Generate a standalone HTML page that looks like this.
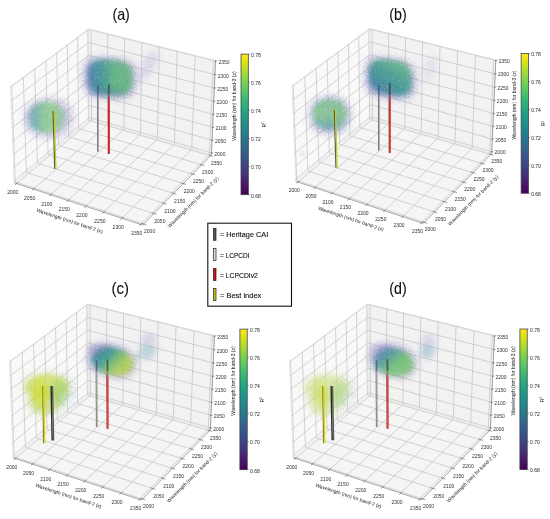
<!DOCTYPE html>
<html><head><meta charset="utf-8"><style>html,body{margin:0;padding:0;background:#fff;}svg{display:block;}</style></head>
<body><svg width="550" height="519" viewBox="0 0 550 519"><defs><linearGradient id="vir" x1="0" y1="0" x2="0" y2="1"><stop offset="0.00" stop-color="#fde724"/><stop offset="0.05" stop-color="#dfe318"/><stop offset="0.10" stop-color="#bdde26"/><stop offset="0.15" stop-color="#9ad83c"/><stop offset="0.20" stop-color="#79d151"/><stop offset="0.25" stop-color="#5ec961"/><stop offset="0.30" stop-color="#44be70"/><stop offset="0.35" stop-color="#2fb37b"/><stop offset="0.40" stop-color="#22a784"/><stop offset="0.45" stop-color="#1e9b89"/><stop offset="0.50" stop-color="#20908c"/><stop offset="0.55" stop-color="#24848d"/><stop offset="0.60" stop-color="#29788e"/><stop offset="0.65" stop-color="#2e6b8e"/><stop offset="0.70" stop-color="#345e8d"/><stop offset="0.75" stop-color="#3a528b"/><stop offset="0.80" stop-color="#404387"/><stop offset="0.85" stop-color="#45347f"/><stop offset="0.90" stop-color="#482374"/><stop offset="0.95" stop-color="#471265"/><stop offset="1.00" stop-color="#440154"/></linearGradient><filter id="b1" x="-50%" y="-50%" width="200%" height="200%"><feGaussianBlur stdDeviation="1"/></filter><filter id="b1.5" x="-50%" y="-50%" width="200%" height="200%"><feGaussianBlur stdDeviation="1.5"/></filter><filter id="b2" x="-50%" y="-50%" width="200%" height="200%"><feGaussianBlur stdDeviation="2"/></filter><filter id="b2.5" x="-50%" y="-50%" width="200%" height="200%"><feGaussianBlur stdDeviation="2.5"/></filter><filter id="b3" x="-50%" y="-50%" width="200%" height="200%"><feGaussianBlur stdDeviation="3"/></filter><filter id="b3.5" x="-50%" y="-50%" width="200%" height="200%"><feGaussianBlur stdDeviation="3.5"/></filter><filter id="b4" x="-50%" y="-50%" width="200%" height="200%"><feGaussianBlur stdDeviation="4"/></filter><filter id="b5" x="-50%" y="-50%" width="200%" height="200%"><feGaussianBlur stdDeviation="5"/></filter><filter id="gc2" x="-50%" y="-50%" width="200%" height="200%"><feTurbulence type="fractalNoise" baseFrequency="1.3" numOctaves="2" seed="7" result="t"/><feColorMatrix in="t" type="matrix" values="0 0 0 0 0 0 0 0 0 0 0 0 0 0 0 1.0 0 0 0 0.45" result="m"/><feGaussianBlur in="SourceGraphic" stdDeviation="2" result="b"/><feComposite in="b" in2="m" operator="in"/></filter><filter id="gc2.5" x="-50%" y="-50%" width="200%" height="200%"><feTurbulence type="fractalNoise" baseFrequency="1.3" numOctaves="2" seed="7" result="t"/><feColorMatrix in="t" type="matrix" values="0 0 0 0 0 0 0 0 0 0 0 0 0 0 0 1.0 0 0 0 0.45" result="m"/><feGaussianBlur in="SourceGraphic" stdDeviation="2.5" result="b"/><feComposite in="b" in2="m" operator="in"/></filter><filter id="gc3" x="-50%" y="-50%" width="200%" height="200%"><feTurbulence type="fractalNoise" baseFrequency="1.3" numOctaves="2" seed="7" result="t"/><feColorMatrix in="t" type="matrix" values="0 0 0 0 0 0 0 0 0 0 0 0 0 0 0 1.0 0 0 0 0.45" result="m"/><feGaussianBlur in="SourceGraphic" stdDeviation="3" result="b"/><feComposite in="b" in2="m" operator="in"/></filter><filter id="gr2.5" x="-50%" y="-50%" width="200%" height="200%"><feTurbulence type="fractalNoise" baseFrequency="1.3" numOctaves="2" seed="3" result="t"/><feColorMatrix in="t" type="matrix" values="0 0 0 0 0 0 0 0 0 0 0 0 0 0 0 2.2 0 0 0 -0.7" result="m"/><feGaussianBlur in="SourceGraphic" stdDeviation="2.5" result="b"/><feComposite in="b" in2="m" operator="in"/></filter><filter id="gr3" x="-50%" y="-50%" width="200%" height="200%"><feTurbulence type="fractalNoise" baseFrequency="1.3" numOctaves="2" seed="3" result="t"/><feColorMatrix in="t" type="matrix" values="0 0 0 0 0 0 0 0 0 0 0 0 0 0 0 2.2 0 0 0 -0.7" result="m"/><feGaussianBlur in="SourceGraphic" stdDeviation="3" result="b"/><feComposite in="b" in2="m" operator="in"/></filter><filter id="gr3.5" x="-50%" y="-50%" width="200%" height="200%"><feTurbulence type="fractalNoise" baseFrequency="1.3" numOctaves="2" seed="3" result="t"/><feColorMatrix in="t" type="matrix" values="0 0 0 0 0 0 0 0 0 0 0 0 0 0 0 2.2 0 0 0 -0.7" result="m"/><feGaussianBlur in="SourceGraphic" stdDeviation="3.5" result="b"/><feComposite in="b" in2="m" operator="in"/></filter><filter id="gr4" x="-50%" y="-50%" width="200%" height="200%"><feTurbulence type="fractalNoise" baseFrequency="1.3" numOctaves="2" seed="3" result="t"/><feColorMatrix in="t" type="matrix" values="0 0 0 0 0 0 0 0 0 0 0 0 0 0 0 2.2 0 0 0 -0.7" result="m"/><feGaussianBlur in="SourceGraphic" stdDeviation="4" result="b"/><feComposite in="b" in2="m" operator="in"/></filter><filter id="soft" x="0" y="0" width="100%" height="100%"><feGaussianBlur stdDeviation="0.3"/></filter><linearGradient id="g0" gradientUnits="userSpaceOnUse" x1="29.00" y1="0.00" x2="66.00" y2="0.00"><stop offset="0" stop-color="#5c9cb4" stop-opacity="1"/><stop offset="0.28" stop-color="#6cba94" stop-opacity="1"/><stop offset="0.55" stop-color="#8ad07a" stop-opacity="1"/><stop offset="0.8" stop-color="#88c888" stop-opacity="1"/><stop offset="1" stop-color="#8cb4b0" stop-opacity="1"/></linearGradient><linearGradient id="g1" gradientUnits="userSpaceOnUse" x1="87.00" y1="0.00" x2="132.00" y2="0.00"><stop offset="0" stop-color="#4a70aa" stop-opacity="1"/><stop offset="0.14" stop-color="#31809a" stop-opacity="1"/><stop offset="0.35" stop-color="#2f9488" stop-opacity="1"/><stop offset="0.62" stop-color="#52b672" stop-opacity="1"/><stop offset="1" stop-color="#5cb47a" stop-opacity="1"/></linearGradient><linearGradient id="g2" gradientUnits="userSpaceOnUse" x1="0.00" y1="100.00" x2="0.00" y2="132.00"><stop offset="0" stop-color="#6cbc84" stop-opacity="1"/><stop offset="0.5" stop-color="#78c47c" stop-opacity="1"/><stop offset="0.85" stop-color="#5aa8a0" stop-opacity="1"/><stop offset="1" stop-color="#5a90b0" stop-opacity="1"/></linearGradient><linearGradient id="g3" gradientUnits="userSpaceOnUse" x1="120.00" y1="62.00" x2="96.00" y2="97.00"><stop offset="0" stop-color="#5ab878" stop-opacity="1"/><stop offset="0.35" stop-color="#3a9e86" stop-opacity="1"/><stop offset="0.65" stop-color="#2c8a8c" stop-opacity="1"/><stop offset="0.88" stop-color="#3a74a0" stop-opacity="1"/><stop offset="1" stop-color="#5a66a8" stop-opacity="1"/></linearGradient><linearGradient id="g4" gradientUnits="userSpaceOnUse" x1="98.00" y1="70.00" x2="128.00" y2="100.00"><stop offset="0" stop-color="#6c74b4" stop-opacity="1"/><stop offset="0.2" stop-color="#328592" stop-opacity="1"/><stop offset="0.38" stop-color="#2f9a88" stop-opacity="1"/><stop offset="0.56" stop-color="#6cc05a" stop-opacity="1"/><stop offset="0.76" stop-color="#a8d048" stop-opacity="1"/><stop offset="1" stop-color="#bcd444" stop-opacity="1"/></linearGradient><linearGradient id="g5" gradientUnits="userSpaceOnUse" x1="100.00" y1="70.00" x2="128.00" y2="100.00"><stop offset="0" stop-color="#8088c0" stop-opacity="1"/><stop offset="0.2" stop-color="#4a86a4" stop-opacity="1"/><stop offset="0.38" stop-color="#3a9a90" stop-opacity="1"/><stop offset="0.58" stop-color="#5cc064" stop-opacity="1"/><stop offset="1" stop-color="#74c660" stop-opacity="1"/></linearGradient></defs>
<rect width="550" height="519" fill="#fff"/>
<g filter="url(#soft)"><g transform="translate(0.00,0.00) scale(1)">
<polygon points="14.09,182.77 89.25,119.60 88.65,28.88 10.39,86.65" fill="#f9f9f9"/>
<polygon points="89.25,119.60 211.40,154.97 215.57,60.42 88.65,28.88" fill="#f2f2f2"/>
<polygon points="14.09,182.77 142.63,225.12 211.40,154.97 89.25,119.60" fill="#f5f5f5"/>
<g stroke="#bababa" stroke-width="0.62"><line x1="15.28" y1="181.77" x2="11.63" y2="85.73" /><line x1="14.01" y1="180.66" x2="89.24" y2="117.59" /><line x1="91.55" y1="120.26" x2="91.03" y2="29.47" /><line x1="89.24" y1="117.59" x2="211.49" y2="152.88" /><line x1="16.50" y1="183.56" x2="91.55" y2="120.26" /><line x1="15.28" y1="181.77" x2="143.72" y2="224.01" /><line x1="26.45" y1="172.38" x2="23.30" y2="77.12" /><line x1="13.51" y1="167.75" x2="89.16" y2="105.39" /><line x1="107.64" y1="124.92" x2="107.72" y2="33.62" /><line x1="89.16" y1="105.39" x2="212.05" y2="140.18" /><line x1="33.37" y1="189.12" x2="107.64" y2="124.92" /><line x1="26.45" y1="172.38" x2="153.99" y2="213.54" /><line x1="37.38" y1="163.20" x2="34.69" y2="68.71" /><line x1="13.01" y1="154.71" x2="89.08" y2="93.05" /><line x1="123.97" y1="129.65" x2="124.67" y2="37.83" /><line x1="89.08" y1="93.05" x2="212.62" y2="127.34" /><line x1="50.50" y1="194.77" x2="123.97" y2="129.65" /><line x1="37.38" y1="163.20" x2="164.01" y2="203.32" /><line x1="48.05" y1="154.23" x2="45.81" y2="60.50" /><line x1="12.50" y1="141.52" x2="88.99" y2="80.60" /><line x1="140.54" y1="134.45" x2="141.88" y2="42.11" /><line x1="88.99" y1="80.60" x2="213.19" y2="114.37" /><line x1="67.92" y1="200.51" x2="140.54" y2="134.45" /><line x1="48.05" y1="154.23" x2="173.78" y2="193.34" /><line x1="58.48" y1="145.46" x2="56.67" y2="52.48" /><line x1="11.99" y1="128.19" x2="88.91" y2="68.02" /><line x1="157.36" y1="139.32" x2="159.35" y2="46.45" /><line x1="88.91" y1="68.02" x2="213.77" y2="101.25" /><line x1="85.61" y1="206.34" x2="157.36" y2="139.32" /><line x1="58.48" y1="145.46" x2="183.33" y2="183.61" /><line x1="68.69" y1="136.88" x2="67.29" y2="44.65" /><line x1="11.47" y1="114.71" x2="88.82" y2="55.30" /><line x1="174.43" y1="144.26" x2="177.10" y2="50.86" /><line x1="88.82" y1="55.30" x2="214.35" y2="88.00" /><line x1="103.60" y1="212.26" x2="174.43" y2="144.26" /><line x1="68.69" y1="136.88" x2="192.65" y2="174.09" /><line x1="78.67" y1="128.49" x2="77.66" y2="36.99" /><line x1="10.95" y1="101.08" x2="88.74" y2="42.46" /><line x1="191.76" y1="149.28" x2="195.12" y2="55.34" /><line x1="88.74" y1="42.46" x2="214.94" y2="74.60" /><line x1="121.88" y1="218.29" x2="191.76" y2="149.28" /><line x1="78.67" y1="128.49" x2="201.76" y2="164.80" /><line x1="88.43" y1="120.28" x2="87.80" y2="29.51" /><line x1="10.42" y1="87.29" x2="88.65" y2="29.49" /><line x1="209.35" y1="154.37" x2="213.43" y2="59.89" /><line x1="88.65" y1="29.49" x2="215.54" y2="61.05" /><line x1="140.47" y1="224.41" x2="209.35" y2="154.37" /><line x1="88.43" y1="120.28" x2="210.66" y2="155.73" /></g>
<g stroke="#dcdcdc" stroke-width="0.6"><line x1="14.09" y1="182.77" x2="10.39" y2="86.65" /><line x1="10.39" y1="86.65" x2="88.65" y2="28.88" /><line x1="88.65" y1="28.88" x2="89.25" y2="119.60" /><line x1="89.25" y1="119.60" x2="14.09" y2="182.77" /><line x1="88.65" y1="28.88" x2="215.57" y2="60.42" /><line x1="215.57" y1="60.42" x2="211.40" y2="154.97" /><line x1="89.25" y1="119.60" x2="211.40" y2="154.97" /></g>
<polygon points="97.00,85.00 97.90,85.00 97.90,151.80 97.00,151.80" fill="#6e6e6e" opacity="1.0"/><polygon points="97.90,85.00 98.80,85.00 98.80,151.80 97.90,151.80" fill="#9a9a9a" opacity="1.0"/>
<polygon points="107.80,84.20 108.80,84.20 108.80,154.10 107.80,154.10" fill="#a00808" opacity="1.0"/><polygon points="108.80,84.20 109.80,84.20 109.80,154.10 108.80,154.10" fill="#d81010" opacity="1.0"/>
<ellipse cx="148.00" cy="66.00" rx="8.00" ry="18.00" fill="#b8b0d8" opacity="0.5" filter="url(#gr3)" transform="rotate(32 148.00 66.00)"/><ellipse cx="148.00" cy="66.00" rx="6.00" ry="16.00" fill="#c4bedc" opacity="0.25" filter="url(#b2.5)" transform="rotate(32 148.00 66.00)"/><polygon points="75.00,118.00 74.80,121.30 74.19,124.15 73.19,126.77 71.81,129.18 70.07,131.37 67.97,133.32 65.56,135.01 62.85,136.43 59.86,137.54 56.61,138.35 53.08,138.84 49.00,139.00 44.92,138.84 41.39,138.35 38.14,137.54 35.15,136.43 32.44,135.01 30.03,133.32 27.93,131.37 26.19,129.18 24.81,126.77 23.81,124.15 23.20,121.30 23.00,118.00 23.20,114.70 23.81,111.85 24.81,109.23 26.19,106.82 27.93,104.63 30.03,102.68 32.44,100.99 35.15,99.57 38.14,98.46 41.39,97.65 44.92,97.16 49.00,97.00 53.08,97.16 56.61,97.65 59.86,98.46 62.85,99.57 65.56,100.99 67.97,102.68 70.07,104.63 71.81,106.82 73.19,109.23 74.19,111.85 74.80,114.70" fill="#9a90c8" opacity="0.55" filter="url(#gr3)"/><polygon points="72.00,118.00 71.82,120.83 71.29,123.27 70.40,125.52 69.18,127.59 67.64,129.46 65.78,131.14 63.65,132.58 61.25,133.79 58.60,134.75 55.73,135.44 52.61,135.86 49.00,136.00 45.39,135.86 42.27,135.44 39.40,134.75 36.75,133.79 34.35,132.58 32.22,131.14 30.36,129.46 28.82,127.59 27.60,125.52 26.71,123.27 26.18,120.83 26.00,118.00 26.18,115.17 26.71,112.73 27.60,110.48 28.82,108.41 30.36,106.54 32.22,104.86 34.35,103.42 36.75,102.21 39.40,101.25 42.27,100.56 45.39,100.14 49.00,100.00 52.61,100.14 55.73,100.56 58.60,101.25 61.25,102.21 63.65,103.42 65.78,104.86 67.64,106.54 69.18,108.41 70.40,110.48 71.29,112.73 71.82,115.17" fill="#b0a6d6" opacity="0.3" filter="url(#b3)"/><polygon points="65.50,117.50 65.36,119.93 64.93,122.04 64.22,123.97 63.23,125.75 61.99,127.37 60.50,128.81 58.78,130.06 56.85,131.10 54.73,131.92 52.41,132.52 49.91,132.88 47.00,133.00 44.09,132.88 41.59,132.52 39.27,131.92 37.15,131.10 35.22,130.06 33.50,128.81 32.01,127.37 30.77,125.75 29.78,123.97 29.07,122.04 28.64,119.93 28.50,117.50 28.64,115.07 29.07,112.96 29.78,111.03 30.77,109.25 32.01,107.63 33.50,106.19 35.22,104.94 37.15,103.90 39.27,103.08 41.59,102.48 44.09,102.12 47.00,102.00 49.91,102.12 52.41,102.48 54.73,103.08 56.85,103.90 58.78,104.94 60.50,106.19 61.99,107.63 63.23,109.25 64.22,111.03 64.93,112.96 65.36,115.07" fill="url(#g0)" opacity="0.8" filter="url(#gc2.5)"/><polygon points="138.00,79.49 137.84,85.15 137.35,88.39 136.53,91.01 135.39,93.22 133.92,95.08 132.12,96.65 129.97,97.93 127.45,98.93 124.52,99.66 121.07,100.10 116.83,100.26 109.50,100.00 102.17,99.49 97.93,98.89 94.48,98.08 91.55,97.05 89.03,95.78 86.88,94.28 85.08,92.52 83.61,90.50 82.47,88.18 81.65,85.48 81.16,82.18 81.00,76.51 81.16,70.85 81.65,67.61 82.47,64.99 83.61,62.78 85.08,60.92 86.88,59.35 89.03,58.07 91.55,57.07 94.48,56.34 97.93,55.90 102.17,55.74 109.50,56.00 116.83,56.51 121.07,57.11 124.52,57.92 127.45,58.95 129.97,60.22 132.12,61.72 133.92,63.48 135.39,65.50 136.53,67.82 137.35,70.52 137.84,73.82" fill="#8a80c0" opacity="0.6" filter="url(#gr3)"/><polygon points="135.50,79.36 135.35,84.37 134.91,87.25 134.16,89.57 133.12,91.52 131.78,93.17 130.14,94.56 128.18,95.69 125.88,96.58 123.20,97.22 120.06,97.61 116.19,97.74 109.50,97.50 102.81,97.04 98.94,96.50 95.80,95.78 93.12,94.86 90.82,93.73 88.86,92.40 87.22,90.84 85.88,89.05 84.84,86.99 84.09,84.59 83.65,81.66 83.50,76.64 83.65,71.63 84.09,68.75 84.84,66.43 85.88,64.48 87.22,62.83 88.86,61.44 90.82,60.31 93.12,59.42 95.80,58.78 98.94,58.39 102.81,58.26 109.50,58.50 116.19,58.96 120.06,59.50 123.20,60.22 125.88,61.14 128.18,62.27 130.14,63.60 131.78,65.16 133.12,66.95 134.16,69.01 134.91,71.41 135.35,74.34" fill="#958cc6" opacity="0.35" filter="url(#b3)"/><polygon points="132.50,78.68 132.37,83.18 131.99,85.76 131.34,87.84 130.44,89.60 129.28,91.08 127.86,92.33 126.16,93.34 124.17,94.14 121.86,94.72 119.14,95.08 115.79,95.20 110.00,95.00 104.21,94.60 100.86,94.12 98.14,93.48 95.83,92.66 93.84,91.65 92.14,90.45 90.72,89.06 89.56,87.45 88.66,85.61 88.01,83.46 87.63,80.83 87.50,76.32 87.63,71.82 88.01,69.24 88.66,67.16 89.56,65.40 90.72,63.92 92.14,62.67 93.84,61.66 95.83,60.86 98.14,60.28 100.86,59.92 104.21,59.80 110.00,60.00 115.79,60.40 119.14,60.88 121.86,61.52 124.17,62.34 126.16,63.35 127.86,64.55 129.28,65.94 130.44,67.55 131.34,69.39 131.99,71.54 132.37,74.17" fill="url(#g1)" opacity="0.85" filter="url(#gc2.5)"/><ellipse cx="108.00" cy="92.00" rx="18.00" ry="4.00" fill="#4a70a8" opacity="0.3" filter="url(#b2.5)" transform="rotate(3 108.00 92.00)"/><line x1="97.90" y1="85.20" x2="97.90" y2="95.00" stroke="#3a4a58" stroke-width="1.3" opacity="0.55"/><line x1="108.80" y1="84.40" x2="108.80" y2="94.00" stroke="#2a3a30" stroke-width="1.5" opacity="0.6"/>
<polygon points="52.50,111.00 53.70,111.00 55.30,169.00 54.10,169.00" fill="#5a5e3a" opacity="1.0"/><polygon points="53.70,111.00 54.90,111.00 56.50,169.00 55.30,169.00" fill="#c6cc22" opacity="1.0"/>
<g stroke="#555" stroke-width="0.5"><line x1="14.09" y1="182.77" x2="142.63" y2="225.12" /><line x1="142.63" y1="225.12" x2="211.40" y2="154.97" /><line x1="211.40" y1="154.97" x2="215.57" y2="60.42" /></g>
<g stroke="#444" stroke-width="0.5"><line x1="17.72" y1="182.53" x2="15.03" y2="184.80" /><line x1="141.68" y1="223.34" x2="146.45" y2="224.91" /><line x1="210.74" y1="153.66" x2="211.49" y2="152.88" /><line x1="34.57" y1="188.08" x2="31.91" y2="190.38" /><line x1="151.96" y1="212.88" x2="156.69" y2="214.41" /><line x1="211.29" y1="140.94" x2="212.05" y2="140.18" /><line x1="51.70" y1="193.71" x2="49.06" y2="196.04" /><line x1="162.00" y1="202.68" x2="166.69" y2="204.17" /><line x1="211.85" y1="128.10" x2="212.62" y2="127.34" /><line x1="69.10" y1="199.43" x2="66.49" y2="201.80" /><line x1="171.79" y1="192.72" x2="176.45" y2="194.17" /><line x1="212.42" y1="115.11" x2="213.19" y2="114.37" /><line x1="86.78" y1="205.24" x2="84.21" y2="207.65" /><line x1="181.35" y1="183.00" x2="185.97" y2="184.41" /><line x1="213.00" y1="101.99" x2="213.77" y2="101.25" /><line x1="104.75" y1="211.15" x2="102.21" y2="213.60" /><line x1="190.69" y1="173.51" x2="195.28" y2="174.88" /><line x1="213.58" y1="88.72" x2="214.35" y2="88.00" /><line x1="123.02" y1="217.16" x2="120.51" y2="219.64" /><line x1="199.81" y1="164.23" x2="204.36" y2="165.57" /><line x1="214.16" y1="75.31" x2="214.94" y2="74.60" /><line x1="141.59" y1="223.27" x2="139.11" y2="225.79" /><line x1="208.72" y1="155.17" x2="213.24" y2="156.48" /><line x1="214.76" y1="61.76" x2="215.54" y2="61.05" /></g>
<g stroke="#444" stroke-width="0.5"><line x1="210.89" y1="152.88" x2="213.09" y2="152.88" /><line x1="211.45" y1="140.18" x2="213.65" y2="140.18" /><line x1="212.02" y1="127.34" x2="214.22" y2="127.34" /><line x1="212.59" y1="114.37" x2="214.79" y2="114.37" /><line x1="213.17" y1="101.25" x2="215.37" y2="101.25" /><line x1="213.75" y1="88.00" x2="215.95" y2="88.00" /><line x1="214.34" y1="74.60" x2="216.54" y2="74.60" /><line x1="214.94" y1="61.05" x2="217.14" y2="61.05" /></g>
<g font-family="Liberation Sans, sans-serif" font-size="5" fill="#333" text-anchor="middle" dominant-baseline="central"><text x="12.80" y="192.46">2000</text><text x="149.62" y="231.31">2000</text><text x="219.89" y="153.88">2000</text><text x="29.67" y="198.02">2050</text><text x="159.89" y="220.84">2050</text><text x="220.45" y="141.18">2050</text><text x="46.80" y="203.67">2100</text><text x="169.91" y="210.62">2100</text><text x="221.02" y="128.34">2100</text><text x="64.22" y="209.41">2150</text><text x="179.68" y="200.64">2150</text><text x="221.59" y="115.37">2150</text><text x="81.91" y="215.24">2200</text><text x="189.23" y="190.91">2200</text><text x="222.17" y="102.25">2200</text><text x="99.90" y="221.16">2250</text><text x="198.55" y="181.39">2250</text><text x="222.75" y="89.00">2250</text><text x="118.18" y="227.19">2300</text><text x="207.66" y="172.10">2300</text><text x="223.34" y="75.60">2300</text><text x="136.77" y="233.31">2350</text><text x="216.56" y="163.03">2350</text><text x="223.94" y="62.05">2350</text></g>
<g font-family="Liberation Sans, sans-serif" font-size="5" fill="#222" text-anchor="middle" dominant-baseline="central"><text transform="translate(69.80,220.60) rotate(18.4)">Wavelength (nm) for band-2 (x)</text><text transform="translate(192.90,202.00) rotate(-45)">Wavelength (nm) for band-2 (y)</text><text transform="translate(234.00,106.00) rotate(-90)">Wavelength (nm) for band-3 (z)</text></g>
<rect x="241.00" y="54.10" width="7.3" height="140.6" fill="url(#vir)" stroke="#3a3a3a" stroke-width="0.75"/>
<g stroke="#333" stroke-width="0.5"><line x1="248.30" y1="54.10" x2="249.80" y2="54.10" /><line x1="248.30" y1="82.22" x2="249.80" y2="82.22" /><line x1="248.30" y1="110.34" x2="249.80" y2="110.34" /><line x1="248.30" y1="138.46" x2="249.80" y2="138.46" /><line x1="248.30" y1="166.58" x2="249.80" y2="166.58" /><line x1="248.30" y1="194.70" x2="249.80" y2="194.70" /></g>
<g font-family="Liberation Sans, sans-serif" font-size="5" fill="#222" dominant-baseline="central"><text x="251.10" y="55.00">0.78</text><text x="251.10" y="83.12">0.76</text><text x="251.10" y="111.24">0.74</text><text x="251.10" y="139.36">0.72</text><text x="251.10" y="167.48">0.70</text><text x="251.10" y="195.60">0.68</text></g>
<text font-family="Liberation Sans, sans-serif" font-size="4.5" fill="#222" text-anchor="middle" dominant-baseline="central" transform="translate(264.00,124.70) rotate(-90)">R<tspan font-size="3" dy="-1.5">2</tspan></text>
</g>
<text font-family="Liberation Sans, sans-serif" font-size="16.5" fill="#111" stroke="#111" stroke-width="0.1" x="112.40" y="20.20" textLength="17.4" lengthAdjust="spacingAndGlyphs">(a)</text>
<g transform="translate(281.57,-0.30) scale(0.994)">
<polygon points="14.09,182.77 89.25,119.60 88.65,28.88 10.39,86.65" fill="#f9f9f9"/>
<polygon points="89.25,119.60 211.40,154.97 215.57,60.42 88.65,28.88" fill="#f2f2f2"/>
<polygon points="14.09,182.77 142.63,225.12 211.40,154.97 89.25,119.60" fill="#f5f5f5"/>
<g stroke="#bababa" stroke-width="0.62"><line x1="15.28" y1="181.77" x2="11.63" y2="85.73" /><line x1="14.01" y1="180.66" x2="89.24" y2="117.59" /><line x1="91.55" y1="120.26" x2="91.03" y2="29.47" /><line x1="89.24" y1="117.59" x2="211.49" y2="152.88" /><line x1="16.50" y1="183.56" x2="91.55" y2="120.26" /><line x1="15.28" y1="181.77" x2="143.72" y2="224.01" /><line x1="26.45" y1="172.38" x2="23.30" y2="77.12" /><line x1="13.51" y1="167.75" x2="89.16" y2="105.39" /><line x1="107.64" y1="124.92" x2="107.72" y2="33.62" /><line x1="89.16" y1="105.39" x2="212.05" y2="140.18" /><line x1="33.37" y1="189.12" x2="107.64" y2="124.92" /><line x1="26.45" y1="172.38" x2="153.99" y2="213.54" /><line x1="37.38" y1="163.20" x2="34.69" y2="68.71" /><line x1="13.01" y1="154.71" x2="89.08" y2="93.05" /><line x1="123.97" y1="129.65" x2="124.67" y2="37.83" /><line x1="89.08" y1="93.05" x2="212.62" y2="127.34" /><line x1="50.50" y1="194.77" x2="123.97" y2="129.65" /><line x1="37.38" y1="163.20" x2="164.01" y2="203.32" /><line x1="48.05" y1="154.23" x2="45.81" y2="60.50" /><line x1="12.50" y1="141.52" x2="88.99" y2="80.60" /><line x1="140.54" y1="134.45" x2="141.88" y2="42.11" /><line x1="88.99" y1="80.60" x2="213.19" y2="114.37" /><line x1="67.92" y1="200.51" x2="140.54" y2="134.45" /><line x1="48.05" y1="154.23" x2="173.78" y2="193.34" /><line x1="58.48" y1="145.46" x2="56.67" y2="52.48" /><line x1="11.99" y1="128.19" x2="88.91" y2="68.02" /><line x1="157.36" y1="139.32" x2="159.35" y2="46.45" /><line x1="88.91" y1="68.02" x2="213.77" y2="101.25" /><line x1="85.61" y1="206.34" x2="157.36" y2="139.32" /><line x1="58.48" y1="145.46" x2="183.33" y2="183.61" /><line x1="68.69" y1="136.88" x2="67.29" y2="44.65" /><line x1="11.47" y1="114.71" x2="88.82" y2="55.30" /><line x1="174.43" y1="144.26" x2="177.10" y2="50.86" /><line x1="88.82" y1="55.30" x2="214.35" y2="88.00" /><line x1="103.60" y1="212.26" x2="174.43" y2="144.26" /><line x1="68.69" y1="136.88" x2="192.65" y2="174.09" /><line x1="78.67" y1="128.49" x2="77.66" y2="36.99" /><line x1="10.95" y1="101.08" x2="88.74" y2="42.46" /><line x1="191.76" y1="149.28" x2="195.12" y2="55.34" /><line x1="88.74" y1="42.46" x2="214.94" y2="74.60" /><line x1="121.88" y1="218.29" x2="191.76" y2="149.28" /><line x1="78.67" y1="128.49" x2="201.76" y2="164.80" /><line x1="88.43" y1="120.28" x2="87.80" y2="29.51" /><line x1="10.42" y1="87.29" x2="88.65" y2="29.49" /><line x1="209.35" y1="154.37" x2="213.43" y2="59.89" /><line x1="88.65" y1="29.49" x2="215.54" y2="61.05" /><line x1="140.47" y1="224.41" x2="209.35" y2="154.37" /><line x1="88.43" y1="120.28" x2="210.66" y2="155.73" /></g>
<g stroke="#dcdcdc" stroke-width="0.6"><line x1="14.09" y1="182.77" x2="10.39" y2="86.65" /><line x1="10.39" y1="86.65" x2="88.65" y2="28.88" /><line x1="88.65" y1="28.88" x2="89.25" y2="119.60" /><line x1="89.25" y1="119.60" x2="14.09" y2="182.77" /><line x1="88.65" y1="28.88" x2="215.57" y2="60.42" /><line x1="215.57" y1="60.42" x2="211.40" y2="154.97" /><line x1="89.25" y1="119.60" x2="211.40" y2="154.97" /></g>
<polygon points="97.00,85.00 97.90,85.00 97.90,151.80 97.00,151.80" fill="#6e6e6e" opacity="1.0"/><polygon points="97.90,85.00 98.80,85.00 98.80,151.80 97.90,151.80" fill="#9a9a9a" opacity="1.0"/>
<polygon points="107.80,84.20 108.80,84.20 108.80,154.10 107.80,154.10" fill="#a00808" opacity="1.0"/><polygon points="108.80,84.20 109.80,84.20 109.80,154.10 108.80,154.10" fill="#d81010" opacity="1.0"/>
<ellipse cx="149.00" cy="70.00" rx="8.00" ry="15.00" fill="#c0b8dc" opacity="0.35" filter="url(#gr3)" transform="rotate(20 149.00 70.00)"/><ellipse cx="149.00" cy="70.00" rx="5.50" ry="13.00" fill="#cec8e4" opacity="0.18" filter="url(#b2.5)" transform="rotate(20 149.00 70.00)"/><ellipse cx="21.00" cy="155.00" rx="3.00" ry="2.50" fill="#c0b8dc" opacity="0.35" filter="url(#b1.5)" transform="rotate(0 21.00 155.00)"/><polygon points="71.70,116.50 71.52,119.80 70.99,122.65 70.10,125.27 68.88,127.68 67.34,129.87 65.48,131.82 63.35,133.51 60.95,134.93 58.30,136.04 55.43,136.85 52.31,137.34 48.70,137.50 45.09,137.34 41.97,136.85 39.10,136.04 36.45,134.93 34.05,133.51 31.92,131.82 30.06,129.87 28.52,127.68 27.30,125.27 26.41,122.65 25.88,119.80 25.70,116.50 25.88,113.20 26.41,110.35 27.30,107.73 28.52,105.32 30.06,103.13 31.92,101.18 34.05,99.49 36.45,98.07 39.10,96.96 41.97,96.15 45.09,95.66 48.70,95.50 52.31,95.66 55.43,96.15 58.30,96.96 60.95,98.07 63.35,99.49 65.48,101.18 67.34,103.13 68.88,105.32 70.10,107.73 70.99,110.35 71.52,113.20" fill="#8a88c4" opacity="0.55" filter="url(#gr3)"/><polygon points="68.70,116.50 68.54,119.33 68.08,121.77 67.31,124.02 66.25,126.09 64.90,127.96 63.29,129.64 61.44,131.08 59.35,132.29 57.05,133.25 54.55,133.94 51.84,134.36 48.70,134.50 45.56,134.36 42.85,133.94 40.35,133.25 38.05,132.29 35.96,131.08 34.11,129.64 32.50,127.96 31.15,126.09 30.09,124.02 29.32,121.77 28.86,119.33 28.70,116.50 28.86,113.67 29.32,111.23 30.09,108.98 31.15,106.91 32.50,105.04 34.11,103.36 35.96,101.92 38.05,100.71 40.35,99.75 42.85,99.06 45.56,98.64 48.70,98.50 51.84,98.64 54.55,99.06 57.05,99.75 59.35,100.71 61.44,101.92 63.29,103.36 64.90,105.04 66.25,106.91 67.31,108.98 68.08,111.23 68.54,113.67" fill="#9a98cc" opacity="0.3" filter="url(#b3)"/><polygon points="65.50,115.50 65.37,117.93 64.97,120.04 64.32,121.97 63.42,123.75 62.27,125.37 60.91,126.81 59.33,128.06 57.55,129.10 55.60,129.92 53.48,130.52 51.17,130.88 48.50,131.00 45.83,130.88 43.52,130.52 41.40,129.92 39.45,129.10 37.67,128.06 36.09,126.81 34.73,125.37 33.58,123.75 32.68,121.97 32.03,120.04 31.63,117.93 31.50,115.50 31.63,113.07 32.03,110.96 32.68,109.03 33.58,107.25 34.73,105.63 36.09,104.19 37.67,102.94 39.45,101.90 41.40,101.08 43.52,100.48 45.83,100.12 48.50,100.00 51.17,100.12 53.48,100.48 55.60,101.08 57.55,101.90 59.33,102.94 60.91,104.19 62.27,105.63 63.42,107.25 64.32,109.03 64.97,110.96 65.37,113.07" fill="url(#g2)" opacity="0.78" filter="url(#gc2.5)"/><polygon points="136.50,82.38 136.34,88.02 135.87,91.23 135.09,93.80 133.99,95.93 132.57,97.70 130.83,99.14 128.75,100.28 126.32,101.12 123.50,101.65 120.17,101.87 116.08,101.74 109.00,101.00 101.92,100.01 97.83,99.13 94.50,98.09 91.68,96.86 89.25,95.43 87.17,93.78 85.43,91.91 84.01,89.79 82.91,87.39 82.13,84.64 81.66,81.30 81.50,75.62 81.66,69.98 82.13,66.77 82.91,64.20 84.01,62.07 85.43,60.30 87.17,58.86 89.25,57.72 91.68,56.88 94.50,56.35 97.83,56.13 101.92,56.26 109.00,57.00 116.08,57.99 120.17,58.87 123.50,59.91 126.32,61.14 128.75,62.57 130.83,64.22 132.57,66.09 133.99,68.21 135.09,70.61 135.87,73.36 136.34,76.70" fill="#8a80c0" opacity="0.6" filter="url(#gr3)"/><polygon points="133.50,82.01 133.36,86.88 132.94,89.66 132.24,91.87 131.26,93.70 130.00,95.23 128.45,96.47 126.60,97.44 124.43,98.16 121.91,98.61 118.95,98.79 115.30,98.67 109.00,98.00 102.70,97.12 99.05,96.34 96.09,95.44 93.57,94.37 91.40,93.12 89.55,91.69 88.00,90.07 86.74,88.24 85.76,86.16 85.06,83.78 84.64,80.90 84.50,75.99 84.64,71.12 85.06,68.34 85.76,66.13 86.74,64.30 88.00,62.77 89.55,61.53 91.40,60.56 93.57,59.84 96.09,59.39 99.05,59.21 102.70,59.33 109.00,60.00 115.30,60.88 118.95,61.66 121.91,62.56 124.43,63.63 126.60,64.88 128.45,66.31 130.00,67.93 131.26,69.76 132.24,71.84 132.94,74.22 133.36,77.10" fill="#9088c4" opacity="0.35" filter="url(#b3)"/><polygon points="131.00,81.14 130.88,85.63 130.51,88.19 129.89,90.23 129.03,91.92 127.93,93.33 126.56,94.49 124.94,95.39 123.04,96.06 120.83,96.49 118.23,96.67 115.03,96.58 109.50,96.00 103.97,95.22 100.77,94.53 98.17,93.71 95.96,92.74 94.06,91.60 92.44,90.29 91.07,88.81 89.97,87.13 89.11,85.22 88.49,83.03 88.12,80.38 88.00,75.86 88.12,71.37 88.49,68.81 89.11,66.77 89.97,65.08 91.07,63.67 92.44,62.51 94.06,61.61 95.96,60.94 98.17,60.51 100.77,60.33 103.97,60.42 109.50,61.00 115.03,61.78 118.23,62.47 120.83,63.29 123.04,64.26 124.94,65.40 126.56,66.71 127.93,68.19 129.03,69.87 129.89,71.78 130.51,73.97 130.88,76.62" fill="url(#g3)" opacity="0.85" filter="url(#gc2.5)"/><line x1="97.90" y1="85.20" x2="97.90" y2="96.00" stroke="#3a4a58" stroke-width="1.3" opacity="0.55"/><line x1="108.80" y1="83.60" x2="108.80" y2="96.00" stroke="#2a3a30" stroke-width="1.5" opacity="0.6"/>
<polygon points="52.50,111.00 53.70,111.00 55.30,169.00 54.10,169.00" fill="#5a5e3a" opacity="1.0"/><polygon points="53.70,111.00 54.90,111.00 56.50,169.00 55.30,169.00" fill="#c6cc22" opacity="1.0"/>
<g stroke="#555" stroke-width="0.5"><line x1="14.09" y1="182.77" x2="142.63" y2="225.12" /><line x1="142.63" y1="225.12" x2="211.40" y2="154.97" /><line x1="211.40" y1="154.97" x2="215.57" y2="60.42" /></g>
<g stroke="#444" stroke-width="0.5"><line x1="17.72" y1="182.53" x2="15.03" y2="184.80" /><line x1="141.68" y1="223.34" x2="146.45" y2="224.91" /><line x1="210.74" y1="153.66" x2="211.49" y2="152.88" /><line x1="34.57" y1="188.08" x2="31.91" y2="190.38" /><line x1="151.96" y1="212.88" x2="156.69" y2="214.41" /><line x1="211.29" y1="140.94" x2="212.05" y2="140.18" /><line x1="51.70" y1="193.71" x2="49.06" y2="196.04" /><line x1="162.00" y1="202.68" x2="166.69" y2="204.17" /><line x1="211.85" y1="128.10" x2="212.62" y2="127.34" /><line x1="69.10" y1="199.43" x2="66.49" y2="201.80" /><line x1="171.79" y1="192.72" x2="176.45" y2="194.17" /><line x1="212.42" y1="115.11" x2="213.19" y2="114.37" /><line x1="86.78" y1="205.24" x2="84.21" y2="207.65" /><line x1="181.35" y1="183.00" x2="185.97" y2="184.41" /><line x1="213.00" y1="101.99" x2="213.77" y2="101.25" /><line x1="104.75" y1="211.15" x2="102.21" y2="213.60" /><line x1="190.69" y1="173.51" x2="195.28" y2="174.88" /><line x1="213.58" y1="88.72" x2="214.35" y2="88.00" /><line x1="123.02" y1="217.16" x2="120.51" y2="219.64" /><line x1="199.81" y1="164.23" x2="204.36" y2="165.57" /><line x1="214.16" y1="75.31" x2="214.94" y2="74.60" /><line x1="141.59" y1="223.27" x2="139.11" y2="225.79" /><line x1="208.72" y1="155.17" x2="213.24" y2="156.48" /><line x1="214.76" y1="61.76" x2="215.54" y2="61.05" /></g>
<g stroke="#444" stroke-width="0.5"><line x1="210.89" y1="152.88" x2="213.09" y2="152.88" /><line x1="211.45" y1="140.18" x2="213.65" y2="140.18" /><line x1="212.02" y1="127.34" x2="214.22" y2="127.34" /><line x1="212.59" y1="114.37" x2="214.79" y2="114.37" /><line x1="213.17" y1="101.25" x2="215.37" y2="101.25" /><line x1="213.75" y1="88.00" x2="215.95" y2="88.00" /><line x1="214.34" y1="74.60" x2="216.54" y2="74.60" /><line x1="214.94" y1="61.05" x2="217.14" y2="61.05" /></g>
<g font-family="Liberation Sans, sans-serif" font-size="5" fill="#333" text-anchor="middle" dominant-baseline="central"><text x="12.80" y="192.46">2000</text><text x="149.62" y="231.31">2000</text><text x="219.89" y="153.88">2000</text><text x="29.67" y="198.02">2050</text><text x="159.89" y="220.84">2050</text><text x="220.45" y="141.18">2050</text><text x="46.80" y="203.67">2100</text><text x="169.91" y="210.62">2100</text><text x="221.02" y="128.34">2100</text><text x="64.22" y="209.41">2150</text><text x="179.68" y="200.64">2150</text><text x="221.59" y="115.37">2150</text><text x="81.91" y="215.24">2200</text><text x="189.23" y="190.91">2200</text><text x="222.17" y="102.25">2200</text><text x="99.90" y="221.16">2250</text><text x="198.55" y="181.39">2250</text><text x="222.75" y="89.00">2250</text><text x="118.18" y="227.19">2300</text><text x="207.66" y="172.10">2300</text><text x="223.34" y="75.60">2300</text><text x="136.77" y="233.31">2350</text><text x="216.56" y="163.03">2350</text><text x="223.94" y="62.05">2350</text></g>
<g font-family="Liberation Sans, sans-serif" font-size="5" fill="#222" text-anchor="middle" dominant-baseline="central"><text transform="translate(69.80,220.60) rotate(18.4)">Wavelength (nm) for band-2 (x)</text><text transform="translate(192.90,202.00) rotate(-45)">Wavelength (nm) for band-2 (y)</text><text transform="translate(234.00,106.00) rotate(-90)">Wavelength (nm) for band-3 (z)</text></g>
<rect x="241.00" y="54.10" width="7.3" height="140.6" fill="url(#vir)" stroke="#3a3a3a" stroke-width="0.75"/>
<g stroke="#333" stroke-width="0.5"><line x1="248.30" y1="54.10" x2="249.80" y2="54.10" /><line x1="248.30" y1="82.22" x2="249.80" y2="82.22" /><line x1="248.30" y1="110.34" x2="249.80" y2="110.34" /><line x1="248.30" y1="138.46" x2="249.80" y2="138.46" /><line x1="248.30" y1="166.58" x2="249.80" y2="166.58" /><line x1="248.30" y1="194.70" x2="249.80" y2="194.70" /></g>
<g font-family="Liberation Sans, sans-serif" font-size="5" fill="#222" dominant-baseline="central"><text x="251.10" y="55.00">0.78</text><text x="251.10" y="83.12">0.76</text><text x="251.10" y="111.24">0.74</text><text x="251.10" y="139.36">0.72</text><text x="251.10" y="167.48">0.70</text><text x="251.10" y="195.60">0.68</text></g>
<text font-family="Liberation Sans, sans-serif" font-size="4.5" fill="#222" text-anchor="middle" dominant-baseline="central" transform="translate(264.00,124.70) rotate(-90)">R<tspan font-size="3" dy="-1.5">2</tspan></text>
</g>
<text font-family="Liberation Sans, sans-serif" font-size="16.5" fill="#111" stroke="#111" stroke-width="0.1" x="389.30" y="20.20" textLength="17.4" lengthAdjust="spacingAndGlyphs">(b)</text>
<g transform="translate(-1.10,275.00) scale(1)">
<polygon points="14.09,182.77 89.25,119.60 88.65,28.88 10.39,86.65" fill="#f9f9f9"/>
<polygon points="89.25,119.60 211.40,154.97 215.57,60.42 88.65,28.88" fill="#f2f2f2"/>
<polygon points="14.09,182.77 142.63,225.12 211.40,154.97 89.25,119.60" fill="#f5f5f5"/>
<g stroke="#bababa" stroke-width="0.62"><line x1="15.28" y1="181.77" x2="11.63" y2="85.73" /><line x1="14.01" y1="180.66" x2="89.24" y2="117.59" /><line x1="91.55" y1="120.26" x2="91.03" y2="29.47" /><line x1="89.24" y1="117.59" x2="211.49" y2="152.88" /><line x1="16.50" y1="183.56" x2="91.55" y2="120.26" /><line x1="15.28" y1="181.77" x2="143.72" y2="224.01" /><line x1="26.45" y1="172.38" x2="23.30" y2="77.12" /><line x1="13.51" y1="167.75" x2="89.16" y2="105.39" /><line x1="107.64" y1="124.92" x2="107.72" y2="33.62" /><line x1="89.16" y1="105.39" x2="212.05" y2="140.18" /><line x1="33.37" y1="189.12" x2="107.64" y2="124.92" /><line x1="26.45" y1="172.38" x2="153.99" y2="213.54" /><line x1="37.38" y1="163.20" x2="34.69" y2="68.71" /><line x1="13.01" y1="154.71" x2="89.08" y2="93.05" /><line x1="123.97" y1="129.65" x2="124.67" y2="37.83" /><line x1="89.08" y1="93.05" x2="212.62" y2="127.34" /><line x1="50.50" y1="194.77" x2="123.97" y2="129.65" /><line x1="37.38" y1="163.20" x2="164.01" y2="203.32" /><line x1="48.05" y1="154.23" x2="45.81" y2="60.50" /><line x1="12.50" y1="141.52" x2="88.99" y2="80.60" /><line x1="140.54" y1="134.45" x2="141.88" y2="42.11" /><line x1="88.99" y1="80.60" x2="213.19" y2="114.37" /><line x1="67.92" y1="200.51" x2="140.54" y2="134.45" /><line x1="48.05" y1="154.23" x2="173.78" y2="193.34" /><line x1="58.48" y1="145.46" x2="56.67" y2="52.48" /><line x1="11.99" y1="128.19" x2="88.91" y2="68.02" /><line x1="157.36" y1="139.32" x2="159.35" y2="46.45" /><line x1="88.91" y1="68.02" x2="213.77" y2="101.25" /><line x1="85.61" y1="206.34" x2="157.36" y2="139.32" /><line x1="58.48" y1="145.46" x2="183.33" y2="183.61" /><line x1="68.69" y1="136.88" x2="67.29" y2="44.65" /><line x1="11.47" y1="114.71" x2="88.82" y2="55.30" /><line x1="174.43" y1="144.26" x2="177.10" y2="50.86" /><line x1="88.82" y1="55.30" x2="214.35" y2="88.00" /><line x1="103.60" y1="212.26" x2="174.43" y2="144.26" /><line x1="68.69" y1="136.88" x2="192.65" y2="174.09" /><line x1="78.67" y1="128.49" x2="77.66" y2="36.99" /><line x1="10.95" y1="101.08" x2="88.74" y2="42.46" /><line x1="191.76" y1="149.28" x2="195.12" y2="55.34" /><line x1="88.74" y1="42.46" x2="214.94" y2="74.60" /><line x1="121.88" y1="218.29" x2="191.76" y2="149.28" /><line x1="78.67" y1="128.49" x2="201.76" y2="164.80" /><line x1="88.43" y1="120.28" x2="87.80" y2="29.51" /><line x1="10.42" y1="87.29" x2="88.65" y2="29.49" /><line x1="209.35" y1="154.37" x2="213.43" y2="59.89" /><line x1="88.65" y1="29.49" x2="215.54" y2="61.05" /><line x1="140.47" y1="224.41" x2="209.35" y2="154.37" /><line x1="88.43" y1="120.28" x2="210.66" y2="155.73" /></g>
<g stroke="#dcdcdc" stroke-width="0.6"><line x1="14.09" y1="182.77" x2="10.39" y2="86.65" /><line x1="10.39" y1="86.65" x2="88.65" y2="28.88" /><line x1="88.65" y1="28.88" x2="89.25" y2="119.60" /><line x1="89.25" y1="119.60" x2="14.09" y2="182.77" /><line x1="88.65" y1="28.88" x2="215.57" y2="60.42" /><line x1="215.57" y1="60.42" x2="211.40" y2="154.97" /><line x1="89.25" y1="119.60" x2="211.40" y2="154.97" /></g>
<polygon points="96.70,85.00 97.60,85.00 97.90,152.00 97.00,152.00" fill="#6e6e6e" opacity="1.0"/><polygon points="97.60,85.00 98.50,85.00 98.80,152.00 97.90,152.00" fill="#9a9a9a" opacity="1.0"/>
<polygon points="107.50,84.20 108.50,84.20 108.70,153.90 107.70,153.90" fill="#a00808" opacity="1.0"/><polygon points="108.50,84.20 109.50,84.20 109.70,153.90 108.70,153.90" fill="#d81010" opacity="1.0"/>
<ellipse cx="149.50" cy="71.50" rx="10.00" ry="13.50" fill="#b4b0d8" opacity="0.5" filter="url(#gr3)" transform="rotate(0 149.50 71.50)"/><ellipse cx="148.50" cy="76.00" rx="7.50" ry="8.00" fill="#90c4c4" opacity="0.5" filter="url(#gc2.5)" transform="rotate(0 148.50 76.00)"/><ellipse cx="150.00" cy="64.00" rx="7.00" ry="5.00" fill="#c8b4dc" opacity="0.35" filter="url(#b2.5)" transform="rotate(0 150.00 64.00)"/><ellipse cx="139.00" cy="81.00" rx="6.00" ry="3.50" fill="#9cc4c8" opacity="0.4" filter="url(#b2.5)" transform="rotate(-30 139.00 81.00)"/><ellipse cx="66.00" cy="118.00" rx="12.00" ry="15.00" fill="#a8b8e0" opacity="0.5" filter="url(#gr3)" transform="rotate(0 66.00 118.00)"/><ellipse cx="49.00" cy="110.50" rx="29.00" ry="16.00" fill="#bcd4a0" opacity="0.45" filter="url(#gr3)" transform="rotate(0 49.00 110.50)"/><ellipse cx="47.00" cy="126.00" rx="22.00" ry="18.00" fill="#bcd4a0" opacity="0.45" filter="url(#gr3)" transform="rotate(0 47.00 126.00)"/><ellipse cx="48.00" cy="111.50" rx="22.00" ry="12.50" fill="#c4dc4c" opacity="0.7" filter="url(#gc2.5)" transform="rotate(0 48.00 111.50)"/><ellipse cx="46.00" cy="125.50" rx="16.00" ry="13.50" fill="#bcd858" opacity="0.62" filter="url(#gc2.5)" transform="rotate(0 46.00 125.50)"/><ellipse cx="41.00" cy="118.00" rx="7.00" ry="15.00" fill="#d8e038" opacity="0.55" filter="url(#b2.5)" transform="rotate(0 41.00 118.00)"/><ellipse cx="61.00" cy="118.00" rx="8.00" ry="12.00" fill="#94cc74" opacity="0.45" filter="url(#b2.5)" transform="rotate(0 61.00 118.00)"/><polygon points="138.70,92.03 137.81,94.72 136.61,96.94 135.06,98.87 133.17,100.53 130.95,101.92 128.44,103.01 125.66,103.81 122.63,104.30 119.39,104.48 115.95,104.34 112.29,103.86 108.15,102.97 104.06,101.80 100.61,100.51 97.51,99.02 94.73,97.35 92.29,95.49 90.20,93.48 88.50,91.33 87.19,89.07 86.30,86.72 85.84,84.28 85.82,81.76 86.30,78.97 87.19,76.28 88.39,74.06 89.94,72.13 91.83,70.47 94.05,69.08 96.56,67.99 99.34,67.19 102.37,66.70 105.61,66.52 109.05,66.66 112.71,67.14 116.85,68.03 120.94,69.20 124.39,70.49 127.49,71.98 130.27,73.65 132.71,75.51 134.80,77.52 136.50,79.67 137.81,81.93 138.70,84.28 139.16,86.72 139.18,89.24" fill="#8a80c0" opacity="0.5" filter="url(#gr3)"/><polygon points="135.79,91.31 135.02,93.62 133.97,95.53 132.60,97.18 130.94,98.60 128.98,99.78 126.76,100.71 124.29,101.38 121.61,101.79 118.74,101.92 115.68,101.77 112.44,101.33 108.75,100.54 105.12,99.51 102.05,98.37 99.29,97.07 96.81,95.60 94.63,93.99 92.77,92.24 91.24,90.37 90.07,88.41 89.26,86.38 88.84,84.28 88.81,82.10 89.21,79.69 89.98,77.38 91.03,75.47 92.40,73.82 94.06,72.40 96.02,71.22 98.24,70.29 100.71,69.62 103.39,69.21 106.26,69.08 109.32,69.23 112.56,69.67 116.25,70.46 119.88,71.49 122.95,72.63 125.71,73.93 128.19,75.40 130.37,77.01 132.23,78.76 133.76,80.63 134.93,82.59 135.74,84.62 136.16,86.72 136.19,88.90" fill="#9a90c8" opacity="0.3" filter="url(#b3)"/><ellipse cx="108.00" cy="77.00" rx="19.00" ry="7.00" fill="#8a84c0" opacity="0.4" filter="url(#gc2.5)" transform="rotate(12 108.00 77.00)"/><polygon points="133.88,91.58 133.20,93.60 132.29,95.26 131.10,96.70 129.64,97.93 127.93,98.96 125.99,99.77 123.83,100.35 121.49,100.70 118.97,100.81 116.30,100.68 113.46,100.30 110.23,99.60 107.06,98.70 104.37,97.71 101.95,96.57 99.78,95.29 97.88,93.88 96.25,92.35 94.91,90.73 93.88,89.02 93.17,87.24 92.80,85.41 92.77,83.52 93.12,81.42 93.80,79.40 94.71,77.74 95.90,76.30 97.36,75.07 99.07,74.04 101.01,73.23 103.17,72.65 105.51,72.30 108.03,72.19 110.70,72.32 113.54,72.70 116.77,73.40 119.94,74.30 122.63,75.29 125.05,76.43 127.22,77.71 129.12,79.12 130.75,80.65 132.09,82.27 133.12,83.98 133.83,85.76 134.20,87.59 134.23,89.48" fill="url(#g4)" opacity="0.85" filter="url(#gc2.5)"/><line x1="97.70" y1="85.50" x2="97.80" y2="96.00" stroke="#3a4a58" stroke-width="1.3" opacity="0.55"/><line x1="108.60" y1="84.50" x2="108.60" y2="96.00" stroke="#2a3a30" stroke-width="1.5" opacity="0.6"/>
<polygon points="43.20,111.00 44.40,111.00 45.30,168.30 44.10,168.30" fill="#8a8a20" opacity="1.0"/><polygon points="44.40,111.00 45.60,111.00 46.50,168.30 45.30,168.30" fill="#d8d810" opacity="1.0"/>
<polygon points="51.50,111.00 52.90,111.00 54.00,165.40 52.60,165.40" fill="#2a2a2a" opacity="1.0"/><polygon points="52.90,111.00 54.30,111.00 55.40,165.40 54.00,165.40" fill="#5a5a5a" opacity="1.0"/>
<g stroke="#555" stroke-width="0.5"><line x1="14.09" y1="182.77" x2="142.63" y2="225.12" /><line x1="142.63" y1="225.12" x2="211.40" y2="154.97" /><line x1="211.40" y1="154.97" x2="215.57" y2="60.42" /></g>
<g stroke="#444" stroke-width="0.5"><line x1="17.72" y1="182.53" x2="15.03" y2="184.80" /><line x1="141.68" y1="223.34" x2="146.45" y2="224.91" /><line x1="210.74" y1="153.66" x2="211.49" y2="152.88" /><line x1="34.57" y1="188.08" x2="31.91" y2="190.38" /><line x1="151.96" y1="212.88" x2="156.69" y2="214.41" /><line x1="211.29" y1="140.94" x2="212.05" y2="140.18" /><line x1="51.70" y1="193.71" x2="49.06" y2="196.04" /><line x1="162.00" y1="202.68" x2="166.69" y2="204.17" /><line x1="211.85" y1="128.10" x2="212.62" y2="127.34" /><line x1="69.10" y1="199.43" x2="66.49" y2="201.80" /><line x1="171.79" y1="192.72" x2="176.45" y2="194.17" /><line x1="212.42" y1="115.11" x2="213.19" y2="114.37" /><line x1="86.78" y1="205.24" x2="84.21" y2="207.65" /><line x1="181.35" y1="183.00" x2="185.97" y2="184.41" /><line x1="213.00" y1="101.99" x2="213.77" y2="101.25" /><line x1="104.75" y1="211.15" x2="102.21" y2="213.60" /><line x1="190.69" y1="173.51" x2="195.28" y2="174.88" /><line x1="213.58" y1="88.72" x2="214.35" y2="88.00" /><line x1="123.02" y1="217.16" x2="120.51" y2="219.64" /><line x1="199.81" y1="164.23" x2="204.36" y2="165.57" /><line x1="214.16" y1="75.31" x2="214.94" y2="74.60" /><line x1="141.59" y1="223.27" x2="139.11" y2="225.79" /><line x1="208.72" y1="155.17" x2="213.24" y2="156.48" /><line x1="214.76" y1="61.76" x2="215.54" y2="61.05" /></g>
<g stroke="#444" stroke-width="0.5"><line x1="210.89" y1="152.88" x2="213.09" y2="152.88" /><line x1="211.45" y1="140.18" x2="213.65" y2="140.18" /><line x1="212.02" y1="127.34" x2="214.22" y2="127.34" /><line x1="212.59" y1="114.37" x2="214.79" y2="114.37" /><line x1="213.17" y1="101.25" x2="215.37" y2="101.25" /><line x1="213.75" y1="88.00" x2="215.95" y2="88.00" /><line x1="214.34" y1="74.60" x2="216.54" y2="74.60" /><line x1="214.94" y1="61.05" x2="217.14" y2="61.05" /></g>
<g font-family="Liberation Sans, sans-serif" font-size="5" fill="#333" text-anchor="middle" dominant-baseline="central"><text x="12.80" y="192.46">2000</text><text x="149.62" y="231.31">2000</text><text x="219.89" y="153.88">2000</text><text x="29.67" y="198.02">2050</text><text x="159.89" y="220.84">2050</text><text x="220.45" y="141.18">2050</text><text x="46.80" y="203.67">2100</text><text x="169.91" y="210.62">2100</text><text x="221.02" y="128.34">2100</text><text x="64.22" y="209.41">2150</text><text x="179.68" y="200.64">2150</text><text x="221.59" y="115.37">2150</text><text x="81.91" y="215.24">2200</text><text x="189.23" y="190.91">2200</text><text x="222.17" y="102.25">2200</text><text x="99.90" y="221.16">2250</text><text x="198.55" y="181.39">2250</text><text x="222.75" y="89.00">2250</text><text x="118.18" y="227.19">2300</text><text x="207.66" y="172.10">2300</text><text x="223.34" y="75.60">2300</text><text x="136.77" y="233.31">2350</text><text x="216.56" y="163.03">2350</text><text x="223.94" y="62.05">2350</text></g>
<g font-family="Liberation Sans, sans-serif" font-size="5" fill="#222" text-anchor="middle" dominant-baseline="central"><text transform="translate(69.80,220.60) rotate(18.4)">Wavelength (nm) for band-2 (x)</text><text transform="translate(192.90,202.00) rotate(-45)">Wavelength (nm) for band-2 (y)</text><text transform="translate(234.00,106.00) rotate(-90)">Wavelength (nm) for band-3 (z)</text></g>
<rect x="241.00" y="54.10" width="7.3" height="140.6" fill="url(#vir)" stroke="#3a3a3a" stroke-width="0.75"/>
<g stroke="#333" stroke-width="0.5"><line x1="248.30" y1="54.10" x2="249.80" y2="54.10" /><line x1="248.30" y1="82.22" x2="249.80" y2="82.22" /><line x1="248.30" y1="110.34" x2="249.80" y2="110.34" /><line x1="248.30" y1="138.46" x2="249.80" y2="138.46" /><line x1="248.30" y1="166.58" x2="249.80" y2="166.58" /><line x1="248.30" y1="194.70" x2="249.80" y2="194.70" /></g>
<g font-family="Liberation Sans, sans-serif" font-size="5" fill="#222" dominant-baseline="central"><text x="251.10" y="55.00">0.78</text><text x="251.10" y="83.12">0.76</text><text x="251.10" y="111.24">0.74</text><text x="251.10" y="139.36">0.72</text><text x="251.10" y="167.48">0.70</text><text x="251.10" y="195.60">0.68</text></g>
<text font-family="Liberation Sans, sans-serif" font-size="4.5" fill="#222" text-anchor="middle" dominant-baseline="central" transform="translate(264.00,124.70) rotate(-90)">R<tspan font-size="3" dy="-1.5">2</tspan></text>
</g>
<text font-family="Liberation Sans, sans-serif" font-size="16.5" fill="#111" stroke="#111" stroke-width="0.1" x="111.50" y="293.90" textLength="17.4" lengthAdjust="spacingAndGlyphs">(c)</text>
<g transform="translate(278.90,274.90) scale(1)">
<polygon points="14.09,182.77 89.25,119.60 88.65,28.88 10.39,86.65" fill="#f9f9f9"/>
<polygon points="89.25,119.60 211.40,154.97 215.57,60.42 88.65,28.88" fill="#f2f2f2"/>
<polygon points="14.09,182.77 142.63,225.12 211.40,154.97 89.25,119.60" fill="#f5f5f5"/>
<g stroke="#bababa" stroke-width="0.62"><line x1="15.28" y1="181.77" x2="11.63" y2="85.73" /><line x1="14.01" y1="180.66" x2="89.24" y2="117.59" /><line x1="91.55" y1="120.26" x2="91.03" y2="29.47" /><line x1="89.24" y1="117.59" x2="211.49" y2="152.88" /><line x1="16.50" y1="183.56" x2="91.55" y2="120.26" /><line x1="15.28" y1="181.77" x2="143.72" y2="224.01" /><line x1="26.45" y1="172.38" x2="23.30" y2="77.12" /><line x1="13.51" y1="167.75" x2="89.16" y2="105.39" /><line x1="107.64" y1="124.92" x2="107.72" y2="33.62" /><line x1="89.16" y1="105.39" x2="212.05" y2="140.18" /><line x1="33.37" y1="189.12" x2="107.64" y2="124.92" /><line x1="26.45" y1="172.38" x2="153.99" y2="213.54" /><line x1="37.38" y1="163.20" x2="34.69" y2="68.71" /><line x1="13.01" y1="154.71" x2="89.08" y2="93.05" /><line x1="123.97" y1="129.65" x2="124.67" y2="37.83" /><line x1="89.08" y1="93.05" x2="212.62" y2="127.34" /><line x1="50.50" y1="194.77" x2="123.97" y2="129.65" /><line x1="37.38" y1="163.20" x2="164.01" y2="203.32" /><line x1="48.05" y1="154.23" x2="45.81" y2="60.50" /><line x1="12.50" y1="141.52" x2="88.99" y2="80.60" /><line x1="140.54" y1="134.45" x2="141.88" y2="42.11" /><line x1="88.99" y1="80.60" x2="213.19" y2="114.37" /><line x1="67.92" y1="200.51" x2="140.54" y2="134.45" /><line x1="48.05" y1="154.23" x2="173.78" y2="193.34" /><line x1="58.48" y1="145.46" x2="56.67" y2="52.48" /><line x1="11.99" y1="128.19" x2="88.91" y2="68.02" /><line x1="157.36" y1="139.32" x2="159.35" y2="46.45" /><line x1="88.91" y1="68.02" x2="213.77" y2="101.25" /><line x1="85.61" y1="206.34" x2="157.36" y2="139.32" /><line x1="58.48" y1="145.46" x2="183.33" y2="183.61" /><line x1="68.69" y1="136.88" x2="67.29" y2="44.65" /><line x1="11.47" y1="114.71" x2="88.82" y2="55.30" /><line x1="174.43" y1="144.26" x2="177.10" y2="50.86" /><line x1="88.82" y1="55.30" x2="214.35" y2="88.00" /><line x1="103.60" y1="212.26" x2="174.43" y2="144.26" /><line x1="68.69" y1="136.88" x2="192.65" y2="174.09" /><line x1="78.67" y1="128.49" x2="77.66" y2="36.99" /><line x1="10.95" y1="101.08" x2="88.74" y2="42.46" /><line x1="191.76" y1="149.28" x2="195.12" y2="55.34" /><line x1="88.74" y1="42.46" x2="214.94" y2="74.60" /><line x1="121.88" y1="218.29" x2="191.76" y2="149.28" /><line x1="78.67" y1="128.49" x2="201.76" y2="164.80" /><line x1="88.43" y1="120.28" x2="87.80" y2="29.51" /><line x1="10.42" y1="87.29" x2="88.65" y2="29.49" /><line x1="209.35" y1="154.37" x2="213.43" y2="59.89" /><line x1="88.65" y1="29.49" x2="215.54" y2="61.05" /><line x1="140.47" y1="224.41" x2="209.35" y2="154.37" /><line x1="88.43" y1="120.28" x2="210.66" y2="155.73" /></g>
<g stroke="#dcdcdc" stroke-width="0.6"><line x1="14.09" y1="182.77" x2="10.39" y2="86.65" /><line x1="10.39" y1="86.65" x2="88.65" y2="28.88" /><line x1="88.65" y1="28.88" x2="89.25" y2="119.60" /><line x1="89.25" y1="119.60" x2="14.09" y2="182.77" /><line x1="88.65" y1="28.88" x2="215.57" y2="60.42" /><line x1="215.57" y1="60.42" x2="211.40" y2="154.97" /><line x1="89.25" y1="119.60" x2="211.40" y2="154.97" /></g>
<polygon points="96.70,85.00 97.60,85.00 97.90,152.00 97.00,152.00" fill="#6e6e6e" opacity="1.0"/><polygon points="97.60,85.00 98.50,85.00 98.80,152.00 97.90,152.00" fill="#9a9a9a" opacity="1.0"/>
<polygon points="107.50,84.20 108.50,84.20 108.70,153.90 107.70,153.90" fill="#a00808" opacity="1.0"/><polygon points="108.50,84.20 109.50,84.20 109.70,153.90 108.70,153.90" fill="#d81010" opacity="1.0"/>
<ellipse cx="149.00" cy="72.00" rx="9.50" ry="12.50" fill="#b4b0d8" opacity="0.5" filter="url(#gr3)" transform="rotate(0 149.00 72.00)"/><ellipse cx="148.50" cy="76.00" rx="7.00" ry="7.50" fill="#8cb8c8" opacity="0.5" filter="url(#gc2.5)" transform="rotate(0 148.50 76.00)"/><ellipse cx="149.50" cy="64.50" rx="7.00" ry="5.00" fill="#d0b8dc" opacity="0.35" filter="url(#b2.5)" transform="rotate(0 149.50 64.50)"/><ellipse cx="66.00" cy="119.00" rx="12.00" ry="15.00" fill="#b0bce4" opacity="0.5" filter="url(#gr3)" transform="rotate(0 66.00 119.00)"/><ellipse cx="49.00" cy="111.50" rx="29.00" ry="16.00" fill="#c8dcb0" opacity="0.45" filter="url(#gr3)" transform="rotate(0 49.00 111.50)"/><ellipse cx="47.00" cy="127.00" rx="22.00" ry="18.00" fill="#c8dcb0" opacity="0.45" filter="url(#gr3)" transform="rotate(0 47.00 127.00)"/><ellipse cx="48.00" cy="112.50" rx="22.00" ry="12.50" fill="#cce07c" opacity="0.55" filter="url(#gc2.5)" transform="rotate(0 48.00 112.50)"/><ellipse cx="46.00" cy="126.50" rx="16.00" ry="13.50" fill="#c8dc80" opacity="0.5" filter="url(#gc2.5)" transform="rotate(0 46.00 126.50)"/><ellipse cx="42.00" cy="119.00" rx="6.00" ry="15.00" fill="#d4e050" opacity="0.45" filter="url(#b2.5)" transform="rotate(0 42.00 119.00)"/><ellipse cx="61.00" cy="119.00" rx="8.00" ry="12.00" fill="#a4d488" opacity="0.4" filter="url(#b2.5)" transform="rotate(0 61.00 119.00)"/><polygon points="139.23,91.79 138.35,94.48 137.17,96.71 135.66,98.65 133.82,100.32 131.67,101.72 129.23,102.84 126.54,103.66 123.61,104.17 120.48,104.38 117.16,104.26 113.64,103.82 109.65,102.97 105.72,101.84 102.40,100.58 99.41,99.13 96.74,97.47 94.41,95.65 92.41,93.66 90.79,91.53 89.55,89.28 88.71,86.94 88.28,84.52 88.28,82.00 88.77,79.21 89.65,76.52 90.83,74.29 92.34,72.35 94.18,70.68 96.33,69.28 98.77,68.16 101.46,67.34 104.39,66.83 107.52,66.62 110.84,66.74 114.36,67.18 118.35,68.03 122.28,69.16 125.60,70.42 128.59,71.87 131.26,73.53 133.59,75.35 135.59,77.34 137.21,79.47 138.45,81.72 139.29,84.06 139.72,86.48 139.72,89.00" fill="#8a80c0" opacity="0.5" filter="url(#gr3)"/><polygon points="136.32,91.06 135.55,93.38 134.53,95.29 133.20,96.96 131.58,98.39 129.69,99.59 127.55,100.54 125.17,101.23 122.59,101.66 119.83,101.82 116.90,101.70 113.78,101.30 110.25,100.54 106.77,99.55 103.84,98.44 101.19,97.17 98.83,95.73 96.75,94.14 94.98,92.41 93.53,90.57 92.42,88.63 91.67,86.60 91.28,84.51 91.27,82.34 91.68,79.94 92.45,77.62 93.47,75.71 94.80,74.04 96.42,72.61 98.31,71.41 100.45,70.46 102.83,69.77 105.41,69.34 108.17,69.18 111.10,69.30 114.22,69.70 117.75,70.46 121.23,71.45 124.16,72.56 126.81,73.83 129.17,75.27 131.25,76.86 133.02,78.59 134.47,80.43 135.58,82.37 136.33,84.40 136.72,86.49 136.73,88.66" fill="#9a90c8" opacity="0.3" filter="url(#b3)"/><ellipse cx="109.00" cy="77.50" rx="18.00" ry="7.00" fill="#948cc4" opacity="0.38" filter="url(#gc2.5)" transform="rotate(12 109.00 77.50)"/><polygon points="133.91,91.84 133.24,93.86 132.35,95.52 131.19,96.97 129.79,98.22 128.14,99.26 126.28,100.09 124.21,100.69 121.97,101.07 119.56,101.21 117.01,101.11 114.31,100.76 111.23,100.10 108.21,99.24 105.66,98.28 103.36,97.17 101.30,95.92 99.50,94.53 97.96,93.03 96.70,91.42 95.73,89.73 95.08,87.97 94.74,86.15 94.73,84.26 95.09,82.16 95.76,80.14 96.65,78.48 97.81,77.03 99.21,75.78 100.86,74.74 102.72,73.91 104.79,73.31 107.03,72.93 109.44,72.79 111.99,72.89 114.69,73.24 117.77,73.90 120.79,74.76 123.34,75.72 125.64,76.83 127.70,78.08 129.50,79.47 131.04,80.97 132.30,82.58 133.27,84.27 133.92,86.03 134.26,87.85 134.27,89.74" fill="url(#g5)" opacity="0.8" filter="url(#gc2.5)"/><line x1="97.70" y1="85.50" x2="97.80" y2="96.00" stroke="#3a4a58" stroke-width="1.3" opacity="0.55"/><line x1="108.60" y1="84.50" x2="108.60" y2="96.00" stroke="#2a3a30" stroke-width="1.5" opacity="0.6"/>
<polygon points="43.20,111.00 44.40,111.00 45.30,168.30 44.10,168.30" fill="#8a8a20" opacity="1.0"/><polygon points="44.40,111.00 45.60,111.00 46.50,168.30 45.30,168.30" fill="#d8d810" opacity="1.0"/>
<polygon points="51.50,111.00 52.90,111.00 54.00,165.40 52.60,165.40" fill="#2a2a2a" opacity="1.0"/><polygon points="52.90,111.00 54.30,111.00 55.40,165.40 54.00,165.40" fill="#5a5a5a" opacity="1.0"/>
<g stroke="#555" stroke-width="0.5"><line x1="14.09" y1="182.77" x2="142.63" y2="225.12" /><line x1="142.63" y1="225.12" x2="211.40" y2="154.97" /><line x1="211.40" y1="154.97" x2="215.57" y2="60.42" /></g>
<g stroke="#444" stroke-width="0.5"><line x1="17.72" y1="182.53" x2="15.03" y2="184.80" /><line x1="141.68" y1="223.34" x2="146.45" y2="224.91" /><line x1="210.74" y1="153.66" x2="211.49" y2="152.88" /><line x1="34.57" y1="188.08" x2="31.91" y2="190.38" /><line x1="151.96" y1="212.88" x2="156.69" y2="214.41" /><line x1="211.29" y1="140.94" x2="212.05" y2="140.18" /><line x1="51.70" y1="193.71" x2="49.06" y2="196.04" /><line x1="162.00" y1="202.68" x2="166.69" y2="204.17" /><line x1="211.85" y1="128.10" x2="212.62" y2="127.34" /><line x1="69.10" y1="199.43" x2="66.49" y2="201.80" /><line x1="171.79" y1="192.72" x2="176.45" y2="194.17" /><line x1="212.42" y1="115.11" x2="213.19" y2="114.37" /><line x1="86.78" y1="205.24" x2="84.21" y2="207.65" /><line x1="181.35" y1="183.00" x2="185.97" y2="184.41" /><line x1="213.00" y1="101.99" x2="213.77" y2="101.25" /><line x1="104.75" y1="211.15" x2="102.21" y2="213.60" /><line x1="190.69" y1="173.51" x2="195.28" y2="174.88" /><line x1="213.58" y1="88.72" x2="214.35" y2="88.00" /><line x1="123.02" y1="217.16" x2="120.51" y2="219.64" /><line x1="199.81" y1="164.23" x2="204.36" y2="165.57" /><line x1="214.16" y1="75.31" x2="214.94" y2="74.60" /><line x1="141.59" y1="223.27" x2="139.11" y2="225.79" /><line x1="208.72" y1="155.17" x2="213.24" y2="156.48" /><line x1="214.76" y1="61.76" x2="215.54" y2="61.05" /></g>
<g stroke="#444" stroke-width="0.5"><line x1="210.89" y1="152.88" x2="213.09" y2="152.88" /><line x1="211.45" y1="140.18" x2="213.65" y2="140.18" /><line x1="212.02" y1="127.34" x2="214.22" y2="127.34" /><line x1="212.59" y1="114.37" x2="214.79" y2="114.37" /><line x1="213.17" y1="101.25" x2="215.37" y2="101.25" /><line x1="213.75" y1="88.00" x2="215.95" y2="88.00" /><line x1="214.34" y1="74.60" x2="216.54" y2="74.60" /><line x1="214.94" y1="61.05" x2="217.14" y2="61.05" /></g>
<g font-family="Liberation Sans, sans-serif" font-size="5" fill="#333" text-anchor="middle" dominant-baseline="central"><text x="12.80" y="192.46">2000</text><text x="149.62" y="231.31">2000</text><text x="219.89" y="153.88">2000</text><text x="29.67" y="198.02">2050</text><text x="159.89" y="220.84">2050</text><text x="220.45" y="141.18">2050</text><text x="46.80" y="203.67">2100</text><text x="169.91" y="210.62">2100</text><text x="221.02" y="128.34">2100</text><text x="64.22" y="209.41">2150</text><text x="179.68" y="200.64">2150</text><text x="221.59" y="115.37">2150</text><text x="81.91" y="215.24">2200</text><text x="189.23" y="190.91">2200</text><text x="222.17" y="102.25">2200</text><text x="99.90" y="221.16">2250</text><text x="198.55" y="181.39">2250</text><text x="222.75" y="89.00">2250</text><text x="118.18" y="227.19">2300</text><text x="207.66" y="172.10">2300</text><text x="223.34" y="75.60">2300</text><text x="136.77" y="233.31">2350</text><text x="216.56" y="163.03">2350</text><text x="223.94" y="62.05">2350</text></g>
<g font-family="Liberation Sans, sans-serif" font-size="5" fill="#222" text-anchor="middle" dominant-baseline="central"><text transform="translate(69.80,220.60) rotate(18.4)">Wavelength (nm) for band-2 (x)</text><text transform="translate(192.90,202.00) rotate(-45)">Wavelength (nm) for band-2 (y)</text><text transform="translate(234.00,106.00) rotate(-90)">Wavelength (nm) for band-3 (z)</text></g>
<rect x="241.00" y="54.10" width="7.3" height="140.6" fill="url(#vir)" stroke="#3a3a3a" stroke-width="0.75"/>
<g stroke="#333" stroke-width="0.5"><line x1="248.30" y1="54.10" x2="249.80" y2="54.10" /><line x1="248.30" y1="82.22" x2="249.80" y2="82.22" /><line x1="248.30" y1="110.34" x2="249.80" y2="110.34" /><line x1="248.30" y1="138.46" x2="249.80" y2="138.46" /><line x1="248.30" y1="166.58" x2="249.80" y2="166.58" /><line x1="248.30" y1="194.70" x2="249.80" y2="194.70" /></g>
<g font-family="Liberation Sans, sans-serif" font-size="5" fill="#222" dominant-baseline="central"><text x="251.10" y="55.00">0.78</text><text x="251.10" y="83.12">0.76</text><text x="251.10" y="111.24">0.74</text><text x="251.10" y="139.36">0.72</text><text x="251.10" y="167.48">0.70</text><text x="251.10" y="195.60">0.68</text></g>
<text font-family="Liberation Sans, sans-serif" font-size="4.5" fill="#222" text-anchor="middle" dominant-baseline="central" transform="translate(264.00,124.70) rotate(-90)">R<tspan font-size="3" dy="-1.5">2</tspan></text>
</g>
<text font-family="Liberation Sans, sans-serif" font-size="16.5" fill="#111" stroke="#111" stroke-width="0.1" x="389.30" y="293.90" textLength="17.4" lengthAdjust="spacingAndGlyphs">(d)</text>
<rect x="207.8" y="223.2" width="83.7" height="83" fill="#fff" stroke="#111" stroke-width="1.1"/><rect x="213.4" y="228.3" width="2.6" height="12" fill="#555" stroke="#222" stroke-width="0.7"/><text font-family="Liberation Sans, sans-serif" font-size="7.4" fill="#111" stroke="#111" stroke-width="0.12" x="220" y="237.4" textLength="48.2" lengthAdjust="spacingAndGlyphs">= Heritage CAI</text><rect x="213.4" y="248.4" width="2.6" height="12" fill="#ddd" stroke="#222" stroke-width="0.7"/><text font-family="Liberation Sans, sans-serif" font-size="7.4" fill="#111" stroke="#111" stroke-width="0.12" x="220" y="257.5" textLength="29.6" lengthAdjust="spacingAndGlyphs">= LCPCDI</text><rect x="213.4" y="268.6" width="2.6" height="12" fill="#d01515" stroke="#222" stroke-width="0.7"/><text font-family="Liberation Sans, sans-serif" font-size="7.4" fill="#111" stroke="#111" stroke-width="0.12" x="220" y="277.70000000000005" textLength="37.8" lengthAdjust="spacingAndGlyphs">= LCPCDIv2</text><rect x="213.4" y="288.6" width="2.6" height="12" fill="#c8c21a" stroke="#222" stroke-width="0.7"/><text font-family="Liberation Sans, sans-serif" font-size="7.4" fill="#111" stroke="#111" stroke-width="0.12" x="220" y="297.70000000000005" textLength="41.3" lengthAdjust="spacingAndGlyphs">= Best index</text></g>
</svg></body></html>
